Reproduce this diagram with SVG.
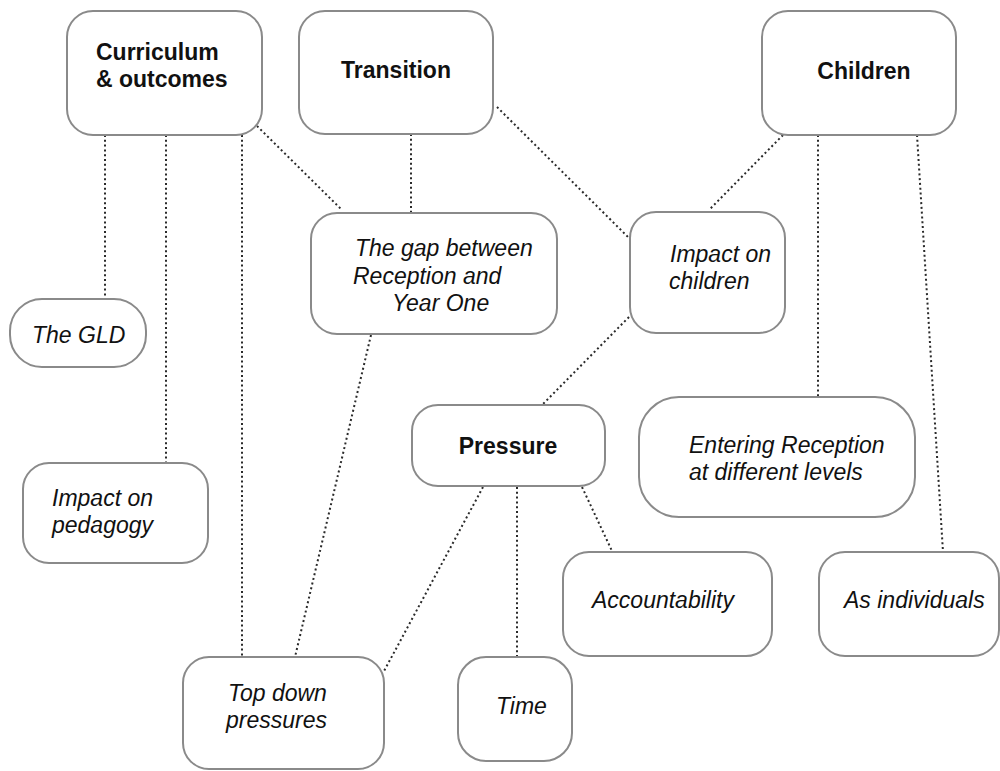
<svg xmlns="http://www.w3.org/2000/svg" width="1000" height="771" viewBox="0 0 1000 771">
  <style>
    .box { fill: #ffffff; stroke: #8a8a8a; stroke-width: 2; }
    .link { stroke: #2a2a2a; stroke-width: 2; stroke-dasharray: 2 2.8; fill: none; }
    .head { font-family: "Liberation Sans", Arial, sans-serif; font-size: 23px; font-weight: bold; fill: #111111; }
    .sub { font-family: "Liberation Sans", Arial, sans-serif; font-size: 23px; font-style: italic; fill: #111111; }
  </style>
  <rect width="1000" height="771" fill="#ffffff"/>

  <!-- dotted links between topics -->
  <g id="connectors">
    <line class="link" x1="105" y1="135" x2="105" y2="299"/>
    <line class="link" x1="166" y1="135" x2="166" y2="463"/>
    <line class="link" x1="242" y1="135" x2="242" y2="657"/>
    <line class="link" x1="257" y1="126" x2="342" y2="210"/>
    <line class="link" x1="411" y1="134" x2="411" y2="213"/>
    <line class="link" x1="497" y1="107" x2="629" y2="238"/>
    <line class="link" x1="783" y1="135" x2="709" y2="210"/>
    <line class="link" x1="818" y1="135" x2="818" y2="397"/>
    <line class="link" x1="917" y1="135" x2="943" y2="552"/>
    <line class="link" x1="629" y1="317" x2="543" y2="404"/>
    <line class="link" x1="371" y1="335" x2="295" y2="657"/>
    <line class="link" x1="483" y1="487" x2="383" y2="673"/>
    <line class="link" x1="517" y1="487" x2="517" y2="658"/>
    <line class="link" x1="582" y1="487" x2="612" y2="551"/>
  </g>

  <g id="curriculum">
    <rect class="box" x="67" y="11" width="195" height="124" rx="26"/>
    <text class="head" x="96" y="60">Curriculum</text>
    <text class="head" x="96" y="87">&amp; outcomes</text>
  </g>

  <g id="transition">
    <rect class="box" x="299" y="11" width="194" height="123" rx="26"/>
    <text class="head" x="396" y="78" text-anchor="middle">Transition</text>
  </g>

  <g id="children">
    <rect class="box" x="762" y="11" width="194" height="124" rx="26"/>
    <text class="head" x="864" y="79" text-anchor="middle">Children</text>
  </g>

  <g id="gap">
    <rect class="box" x="311" y="213" width="246" height="121" rx="26"/>
    <text class="sub" x="355" y="256">The gap between</text>
    <text class="sub" x="353" y="284">Reception and</text>
    <text class="sub" x="392" y="311">Year One</text>
  </g>

  <g id="impact-children">
    <rect class="box" x="630" y="212" width="155" height="121" rx="26"/>
    <text class="sub" x="670" y="262">Impact on</text>
    <text class="sub" x="669" y="289">children</text>
  </g>

  <g id="gld">
    <rect class="box" x="10" y="299" width="136" height="68" rx="32"/>
    <text class="sub" x="32" y="343">The GLD</text>
  </g>

  <g id="pedagogy">
    <rect class="box" x="23" y="463" width="185" height="100" rx="26"/>
    <text class="sub" x="52" y="506">Impact on</text>
    <text class="sub" x="52" y="533">pedagogy</text>
  </g>

  <g id="pressure">
    <rect class="box" x="412" y="405" width="193" height="81" rx="26"/>
    <text class="head" x="508" y="454" text-anchor="middle">Pressure</text>
  </g>

  <g id="entering">
    <rect class="box" x="639" y="397" width="276" height="120" rx="40"/>
    <text class="sub" x="689" y="453">Entering Reception</text>
    <text class="sub" x="689" y="480">at different levels</text>
  </g>

  <g id="accountability">
    <rect class="box" x="563" y="552" width="209" height="104" rx="26"/>
    <text class="sub" x="592" y="608">Accountability</text>
  </g>

  <g id="individuals">
    <rect class="box" x="819" y="552" width="180" height="104" rx="26"/>
    <text class="sub" x="844" y="608">As individuals</text>
  </g>

  <g id="top-down">
    <rect class="box" x="183" y="657" width="201" height="112" rx="26"/>
    <text class="sub" x="228" y="701">Top down</text>
    <text class="sub" x="226" y="728">pressures</text>
  </g>

  <g id="time">
    <rect class="box" x="458" y="657" width="114" height="104" rx="28"/>
    <text class="sub" x="496" y="714">Time</text>
  </g>
</svg>
